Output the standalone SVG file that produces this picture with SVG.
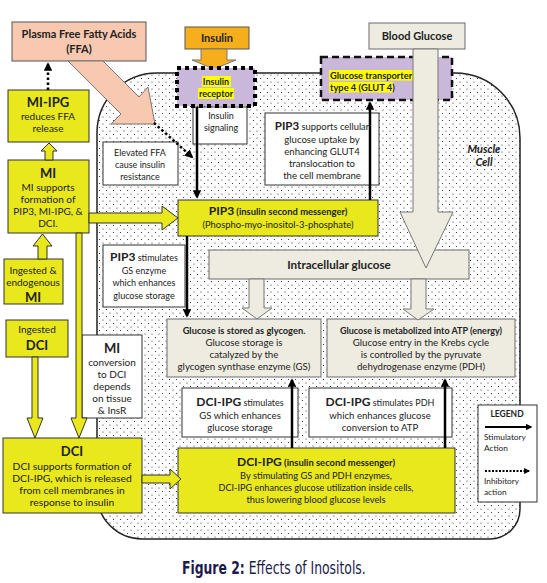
<svg xmlns="http://www.w3.org/2000/svg" width="547" height="583" viewBox="0 0 547 583">
<defs>
<pattern id="dots" width="7" height="7" patternUnits="userSpaceOnUse">
<circle cx="1.5" cy="1.5" r="0.6" fill="#222"/>
<circle cx="5" cy="5" r="0.6" fill="#222"/>
</pattern>
<marker id="ah" viewBox="0 0 10 10" refX="8" refY="5" markerWidth="3.4" markerHeight="3.4" orient="auto">
<path d="M0,0 L10,5 L0,10 z" fill="#000"/>
</marker>
<style>
.t{font-family:Lato,"Open Sans","Liberation Sans",sans-serif;fill:#222;text-anchor:middle;font-size:9px}
.l{text-anchor:start}
.b{font-weight:bold}
.p{font-size:10px}
.q{font-size:9.6px}
.k{font-size:11px;font-weight:bold}
.h{font-size:13px;font-weight:bold}
.m{font-size:12px;font-weight:bold}
.yl{fill:#E8E81C;stroke:#333;stroke-width:1}
.wb{fill:#fff;stroke:#333;stroke-width:1}
.bg{fill:#EEECE1;stroke:#6b6b6b;stroke-width:1}
.pu{fill:#C9B8DA}
.hl{fill:#FFFF00}
.sa{fill:none;stroke:#000;stroke-width:2.5;marker-end:url(#ah)}
.da{fill:none;stroke:#000;stroke-width:2.5;stroke-dasharray:2.5 2.5;marker-end:url(#ah)}
.ya{fill:#E8E81C;stroke:#333;stroke-width:1}
.ba{fill:#EEECE1;stroke:#777;stroke-width:1}
.cap{font-family:"DejaVu Sans Condensed","DejaVu Sans",sans-serif;font-stretch:condensed;font-size:17px;fill:#1c1b4b}
</style>
</defs>
<rect width="547" height="583" fill="#fff"/>

<g id="cell">
<path d="M157,73 H455 A65,65 0 0 1 520,138 V509 A30,30 0 0 1 490,539 H142 A45,45 0 0 1 97,494 V133 A60,60 0 0 1 157,73 Z" fill="#fff"/>
<path d="M157,73 H455 A65,65 0 0 1 520,138 V509 A30,30 0 0 1 490,539 H142 A45,45 0 0 1 97,494 V133 A60,60 0 0 1 157,73 Z" fill="url(#dots)" stroke="#222" stroke-width="1.5"/>
<text class="t k" style="font-style:italic" x="484" y="153">Muscle</text>
<text class="t k" style="font-style:italic" x="484" y="166">Cell</text>
</g>

<g id="ffa">
<rect x="12" y="22" width="134" height="39" fill="#F8C8B0" stroke="#555" stroke-width="1"/>
<text class="t k" x="79" y="38">Plasma Free Fatty Acids</text>
<text class="t k" x="79" y="53">(FFA)</text>
</g>

<g id="insulin">
<rect x="185" y="27" width="64" height="22" fill="#F6AE1C" stroke="#555" stroke-width="1"/>
<text class="t k" x="217" y="42">Insulin</text>
</g>

<g id="blood-glucose">
<rect x="369" y="23" width="96" height="26" class="bg"/>
<text class="t k" x="417" y="40">Blood Glucose</text>
</g>

<g id="glut4">
<rect x="321" y="57" width="131" height="43" class="pu" stroke="#111" stroke-width="2.5" stroke-dasharray="7 4"/>
<rect x="329" y="70" width="84" height="10.5" class="hl"/>
<rect x="329" y="82" width="64" height="10.5" class="hl"/>
<text class="t l b" style="font-size:9.3px" x="330" y="78.5">Glucose transporter</text>
<text class="t l b" style="font-size:9.3px" x="330" y="90.5">type 4 (GLUT 4)</text>
</g>

<g id="elevated-ffa">
<rect x="103" y="142" width="75" height="43" class="wb"/>
<text class="t" x="140" y="156">Elevated FFA</text>
<text class="t" x="140" y="168">cause insulin</text>
<text class="t" x="140" y="180">resistance</text>
</g>

<g id="insulin-signaling">
<rect x="193" y="107" width="54" height="37" class="wb"/>
<text class="t" x="221" y="119">Insulin</text>
<text class="t" x="221" y="131">signaling</text>
</g>

<g id="pip3-glut4">
<rect x="265" y="113" width="114" height="72" class="wb"/>
<text class="t" style="font-size:9.4px" x="322" y="130"><tspan class="b" style="font-size:11.5px">PIP3</tspan> supports cellular</text>
<text class="t" style="font-size:9.6px" x="322" y="143">glucose uptake by</text>
<text class="t" style="font-size:9.6px" x="322" y="155">enhancing GLUT4</text>
<text class="t" style="font-size:9.6px" x="322" y="167">translocation to</text>
<text class="t" style="font-size:9.6px" x="322" y="179">the cell membrane</text>
</g>

<g id="mi-ipg">
<rect x="8" y="90" width="81" height="52" class="yl"/>
<text class="t h" x="48" y="107">MI-IPG</text>
<text class="t p" x="48" y="120">reduces FFA</text>
<text class="t p" x="48" y="132">release</text>
</g>

<g id="mi">
<rect x="8" y="160" width="81" height="73" class="yl"/>
<text class="t h" x="48" y="178">MI</text>
<text class="t p" x="48" y="191">MI supports</text>
<text class="t p" x="48" y="203">formation of</text>
<text class="t p" x="48" y="215">PIP3, MI-IPG, &amp;</text>
<text class="t p" x="48" y="227">DCI.</text>
</g>

<g id="ingested-mi">
<rect x="4" y="259" width="59" height="45" class="yl"/>
<text class="t p" x="33" y="274">Ingested &amp;</text>
<text class="t p" x="33" y="286">endogenous</text>
<text class="t h" x="33" y="302">MI</text>
</g>

<g id="ingested-dci">
<rect x="6" y="320" width="62" height="37" class="yl"/>
<text class="t p" x="37" y="333">Ingested</text>
<text class="t h" x="37" y="350">DCI</text>
</g>

<g id="mi-conversion">
<rect x="82" y="335" width="60" height="83" class="wb"/>
<text class="t h" x="112" y="353">MI</text>
<text class="t p" x="112" y="366">conversion</text>
<text class="t p" x="112" y="378">to DCI</text>
<text class="t p" x="112" y="390">depends</text>
<text class="t p" x="112" y="402">on tissue</text>
<text class="t p" x="112" y="414">&amp; InsR</text>
</g>

<g id="dci">
<rect x="3" y="438" width="139" height="75" class="yl"/>
<text class="t h" x="72" y="456">DCI</text>
<text class="t" style="font-size:10.3px" x="72" y="470">DCI supports formation of</text>
<text class="t" style="font-size:10.3px" x="72" y="482">DCI-IPG, which is released</text>
<text class="t" style="font-size:10.3px" x="72" y="494">from cell membranes in</text>
<text class="t" style="font-size:10.3px" x="72" y="506">response to insulin</text>
</g>

<g id="pip3">
<rect x="178" y="200" width="200" height="36" class="yl"/>
<text class="t b" style="font-size:9.4px" x="278" y="215"><tspan class="m">PIP3</tspan> (insulin second messenger)</text>
<text class="t" style="font-size:9.4px" x="278" y="228">(Phospho-myo-inositol-3-phosphate)</text>
</g>

<g id="pip3-gs">
<rect x="103" y="245" width="82" height="62" class="wb"/>
<text class="t" x="144" y="261"><tspan class="m">PIP3</tspan> stimulates</text>
<text class="t" x="144" y="274">GS enzyme</text>
<text class="t" x="144" y="286">which enhances</text>
<text class="t" x="144" y="299">glucose storage</text>
</g>

<g id="intracellular-glucose">
<rect x="209" y="250" width="260" height="29" class="bg"/>
<text class="t b" style="font-size:11.7px" x="339" y="268.5">Intracellular glucose</text>
</g>

<g id="glycogen">
<rect x="167" y="319" width="154" height="58" class="bg"/>
<text class="t b" style="font-size:9.3px" x="244" y="334">Glucose is stored as glycogen.</text>
<text class="t" style="font-size:9.7px" x="244" y="346">Glucose storage is</text>
<text class="t" style="font-size:9.7px" x="244" y="358">catalyzed by the</text>
<text class="t" style="font-size:9.7px" x="244" y="370">glycogen synthase enzyme (GS)</text>
</g>

<g id="atp">
<rect x="327" y="319" width="188" height="58" class="bg"/>
<text class="t b" x="421" y="334">Glucose is metabolized into ATP (energy)</text>
<text class="t" style="font-size:9.7px" x="421" y="346">Glucose entry in the Krebs cycle</text>
<text class="t" style="font-size:9.7px" x="421" y="358">is controlled by the pyruvate</text>
<text class="t" style="font-size:9.7px" x="421" y="370">dehydrogenase enzyme (PDH)</text>
</g>

<g id="dci-ipg-gs">
<rect x="182" y="388" width="116" height="49" class="wb"/>
<text class="t" x="240" y="406"><tspan class="m">DCI-IPG</tspan> stimulates</text>
<text class="t q" x="240" y="419">GS which enhances</text>
<text class="t q" x="240" y="431">glucose storage</text>
</g>

<g id="dci-ipg-pdh">
<rect x="309" y="388" width="143" height="49" class="wb"/>
<text class="t" x="380" y="406"><tspan class="m">DCI-IPG</tspan> stimulates PDH</text>
<text class="t q" x="380" y="419">which enhances glucose</text>
<text class="t q" x="380" y="431">conversion to ATP</text>
</g>

<g id="dci-ipg">
<rect x="178" y="448" width="277" height="65" class="yl"/>
<text class="t b" style="font-size:9.4px" x="316" y="466"><tspan class="m">DCI-IPG</tspan> (insulin second messenger)</text>
<text class="t" style="font-size:9.3px" x="316" y="479">By stimulating GS and PDH enzymes,</text>
<text class="t" style="font-size:9.1px" x="316" y="491">DCI-IPG enhances glucose utilization inside cells,</text>
<text class="t" style="font-size:9.3px" x="316" y="503">thus lowering blood glucose levels</text>
</g>

<g id="legend">
<rect x="478" y="405" width="59" height="97" class="wb"/>
<text class="t b" style="font-size:8.5px" x="507" y="417">LEGEND</text>
<line x1="485" y1="427" x2="531" y2="427" stroke="#000" stroke-width="2" marker-end="url(#ah)"/>
<text class="t l" style="font-size:8.3px" x="484" y="440">Stimulatory</text>
<text class="t l" style="font-size:8.3px" x="484" y="451">Action</text>
<line x1="485" y1="471" x2="529" y2="471" stroke="#000" stroke-width="1.8" stroke-dasharray="2 1.5" marker-end="url(#ah)"/>
<text class="t l" style="font-size:8.3px" x="484" y="484">Inhibitory</text>
<text class="t l" style="font-size:8.3px" x="484" y="495">action</text>
</g>

<g id="connectors">
<polygon points="68,61 103,61 139,97 148,87 155,124 111,124 121,114" fill="#F8C8B0" stroke="#777" stroke-width="1"/>
<polygon points="201,49 227,49 227,60 236,60 214,69 192,60 201,60" fill="#F6AE1C" stroke="#777" stroke-width="1"/>
<polygon points="413,49 438,49 438,212 453,212 426,268 400,212 413,212" class="ba"/>
<polygon points="249,279 264,279 264,308 272,308 257,319 242,308 249,308" class="ba"/>
<polygon points="411,279 426,279 426,309 434,309 418,320 403,309 411,309" class="ba"/>
<polygon points="45,160 45,151 41,151 49,143 57,151 53,151 53,160" class="ya"/>
<polygon points="38,259 38,246 33,246 42.5,234 52,246 47,246 47,259" class="ya"/>
<polygon points="89,213 162,213 162,206 178,218 162,230 162,223 89,223" class="ya"/>
<polygon points="32,357 32,418 27,418 35,438 43,418 38,418 38,357" class="ya"/>
<polygon points="76,233 76,418 71,418 79,438 87,418 82,418 82,233" class="ya"/>
<polygon points="142,475 170,475 170,469 181,479 170,489 170,483 142,483" class="ya"/>
<line x1="197" y1="107" x2="197" y2="197" class="sa"/>
<line x1="370" y1="200" x2="370" y2="103" class="sa"/>
<line x1="187" y1="236" x2="187" y2="316" class="sa"/>
<line x1="292" y1="448" x2="292" y2="380" class="sa"/>
<line x1="445" y1="448" x2="445" y2="380" class="sa"/>
<line x1="154" y1="123" x2="192" y2="157" class="da"/>
<line x1="48" y1="90" x2="48" y2="64" class="da"/>
</g>

<g id="insulin-receptor">
<rect x="177" y="68" width="78" height="38" class="pu" stroke="#000" stroke-width="4" stroke-dasharray="4 4"/>
<rect x="202" y="76" width="29" height="11" class="hl"/>
<rect x="198" y="88" width="36" height="11" class="hl"/>
<text class="t b" x="216" y="85">Insulin</text>
<text class="t b" x="216" y="97">receptor</text>
</g>

<g id="caption" transform="translate(182,574) scale(0.81,1)">
<text class="cap" x="0" y="0"><tspan style="font-weight:bold">Figure 2:</tspan> Effects of Inositols.</text>
</g>
</svg>
